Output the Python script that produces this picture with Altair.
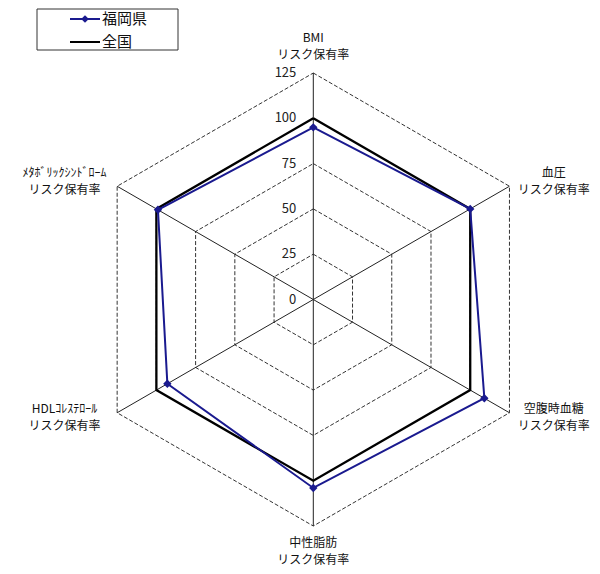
import altair as alt
import pandas as pd
import numpy as np

# ---- data ----
categories = ["BMI\nリスク保有率", "血圧\nリスク保有率", "空腹時血糖\nリスク保有率",
              "中性脂肪\nリスク保有率", "HDLｺﾚｽﾃﾛｰﾙ\nリスク保有率", "ﾒﾀﾎﾞﾘｯｸｼﾝﾄﾞﾛｰﾑ\nリスク保有率"]
fukuoka = [95, 100, 109, 104, 93, 99]
national = [100, 100, 100, 100, 100, 100]
series_names = ["福岡県", "全国"]
ticks = [0, 25, 50, 75, 100, 125]

# ---- layout constants ----
FONT = "Noto Sans CJK JP"
NAVY = "#1a1a8f"
W, H = 584, 558
cx, cy, k = 305.3, 291.5, 1.812
RMAX = ticks[-1]
n = len(categories)

def ang(i):
    return 2 * np.pi * i / n

# series table (closed polygons)
rows = []
for name, vals in zip(series_names, [fukuoka, national]):
    for j in range(n + 1):
        i = j % n
        rows.append({"series": name, "cat": categories[i], "value": vals[i], "ang": ang(i), "ord": j})
series_df = pd.DataFrame(rows)

# grid hexagons
grid_rows = []
for t in ticks[1:]:
    for j in range(n + 1):
        grid_rows.append({"tick": t, "ang": ang(j % n), "ord": j})
grid_df = pd.DataFrame(grid_rows)

axes_df = pd.DataFrame({"cat": categories, "ang": [ang(i) for i in range(n)], "rmax": RMAX})
ticks_df = pd.DataFrame({"tick": ticks})

xs = alt.Scale(domain=[-cx / k, (W - cx) / k], nice=False, zero=False)
ys = alt.Scale(domain=[-(H - cy) / k, cy / k], nice=False, zero=False)
X = lambda f: alt.X(f, scale=xs, axis=None)
Y = lambda f: alt.Y(f, scale=ys, axis=None)

grid = alt.Chart(grid_df).transform_calculate(
    x="datum.tick*sin(datum.ang)", y="datum.tick*cos(datum.ang)"
).mark_line(color="#333", strokeWidth=1, strokeDash=[4, 2]).encode(
    x=X("x:Q"), y=Y("y:Q"), detail="tick:N", order="ord:Q")

spokes = alt.Chart(axes_df).transform_calculate(
    x0="0", y0="0", x1="datum.rmax*sin(datum.ang)", y1="datum.rmax*cos(datum.ang)"
).mark_rule(color="#222", strokeWidth=1).encode(
    x=X("x0:Q"), y=Y("y0:Q"), x2="x1:Q", y2="y1:Q")

tick_labels = alt.Chart(ticks_df).transform_calculate(x0="0").mark_text(
    align="right", baseline="middle", dx=-17, fontSize=13, font=FONT, color="#222"
).encode(x=X("x0:Q"), y=Y("tick:Q"), text="tick:Q")

cat_labels = alt.Chart(axes_df).transform_calculate(
    lx="datum.rmax*sin(datum.ang) + (abs(sin(datum.ang))>0.1 ? (sin(datum.ang)>0 ? 24.5 : -29) : 0)",
    ly="datum.rmax*cos(datum.ang) + (cos(datum.ang)>0.9 ? 19.3 : (cos(datum.ang)<-0.9 ? -9.6 : (cos(datum.ang)>0 ? 7.2 : 2.2)))",
).mark_text(align="center", baseline="middle", lineBreak="\n", lineHeight=17,
            fontSize=12, font=FONT, color="#111").encode(
    x=X("lx:Q"), y=Y("ly:Q"), text="cat:N")

color_scale = alt.Scale(domain=series_names, range=[NAVY, "black"])
base = alt.Chart(series_df).transform_calculate(
    x="datum.value*sin(datum.ang)", y="datum.value*cos(datum.ang)")

nat_line = base.transform_filter(alt.datum.series == series_names[1]).mark_line(
    strokeWidth=2.3).encode(x=X("x:Q"), y=Y("y:Q"), order="ord:Q",
                            color=alt.Color("series:N", scale=color_scale, legend=None))
fk_line = base.transform_filter(alt.datum.series == series_names[0]).mark_line(
    strokeWidth=2).encode(x=X("x:Q"), y=Y("y:Q"), order="ord:Q",
                          color=alt.Color("series:N", scale=color_scale, legend=None))
fk_pts = base.transform_filter(
    (alt.datum.series == series_names[0]) & (alt.datum.ord < n)
).mark_point(shape="diamond", filled=True, size=70, opacity=1).encode(
    x=X("x:Q"), y=Y("y:Q"), color=alt.Color("series:N", scale=color_scale, legend=None))

# ---- manual legend ----
one = pd.DataFrame({"a": [0]})
leg_box = alt.Chart(one).mark_rect(fill="white", stroke="#333", strokeWidth=1).encode(
    x=alt.value(29), x2=alt.value(170), y=alt.value(1), y2=alt.value(42))
leg_df = pd.DataFrame({"series": series_names, "row": [0, 1]})
leg_items = []
for i, name in enumerate(series_names):
    yy = 11 + 23 * i
    col = NAVY if i == 0 else "black"
    d = leg_df[leg_df["series"] == name]
    leg_items.append(alt.Chart(d).mark_rule(color=col, strokeWidth=2).encode(
        x=alt.value(62), x2=alt.value(92), y=alt.value(yy)))
    if i == 0:
        leg_items.append(alt.Chart(d).mark_point(shape="diamond", filled=True, size=60,
                                                 color=col, opacity=1).encode(
            x=alt.value(77), y=alt.value(yy)))
    leg_items.append(alt.Chart(d).mark_text(align="left", baseline="middle", fontSize=15,
                                            font=FONT, color="#111").encode(
        x=alt.value(94), y=alt.value(yy), text="series:N"))

chart = alt.layer(grid, spokes, nat_line, fk_line, fk_pts, tick_labels, cat_labels,
                  leg_box, *leg_items).properties(
    width=W, height=H, padding=0, autosize=alt.AutoSizeParams(type="none")
).configure_view(stroke=None)

chart.save("out.html", embed_options={"renderer": "svg", "actions": False})
